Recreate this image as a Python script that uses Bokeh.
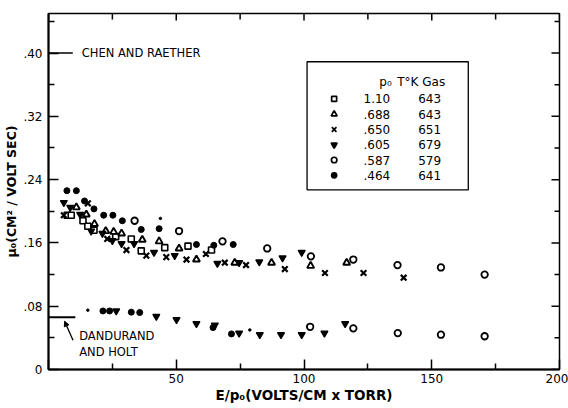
from bokeh.plotting import figure
from bokeh.models import (LinearAxis, FixedTicker, CustomJSTickFormatter, Label,
                          Arrow, NormalHead, Range1d)
from bokeh.embed import file_html
from bokeh.resources import INLINE

# ---------------- data ----------------
# p0 = 1.10, 643 K  (open squares)
sq_x = [7.3, 8.9, 13.5, 15.4, 17.8, 26.3, 32.4, 36.3, 45.5, 54.6, 63.8]
sq_y = [0.195, 0.195, 0.188, 0.181, 0.176, 0.168, 0.165, 0.150, 0.154, 0.156, 0.151]
# p0 = .688, 643 K  (open triangles)
tu_x = [10.9, 14.8, 18.0, 22.4, 25.5, 28.6, 36.7, 43.3, 51.1, 57.9, 72.9, 87.3, 102.6, 116.7]
tu_y = [0.205, 0.196, 0.184, 0.175, 0.174, 0.172, 0.164, 0.162, 0.153, 0.139, 0.135, 0.135, 0.131, 0.135]
# p0 = .650, 651 K  (crosses)
xx_x = [6.0, 15.4, 23.0, 30.5, 38.3, 46.1, 54.0, 61.6, 69.0, 77.3, 92.5, 108.2, 123.3, 139.0]
xx_y = [0.195, 0.210, 0.165, 0.151, 0.144, 0.142, 0.139, 0.146, 0.135, 0.132, 0.127, 0.122, 0.122, 0.116]
# p0 = .605, 679 K  (inverted triangles)
td_x = [6.0, 8.5, 12.4, 16.7, 21.1, 25.0, 28.6, 33.5, 41.3, 49.4, 66.1, 74.6, 82.5, 91.6, 99.1,
        26.5, 42.2, 50.1, 57.9, 65.1, 74.6, 82.7, 91.0, 99.1, 108.0, 116.1]
td_y = [0.211, 0.205, 0.196, 0.175, 0.172, 0.163, 0.159, 0.159, 0.148, 0.144, 0.134, 0.135, 0.136, 0.141, 0.148,
        0.074, 0.067, 0.063, 0.058, 0.056, 0.046, 0.044, 0.044, 0.044, 0.046, 0.058]
# p0 = .587, 579 K  (open circles)
oc_x = [33.7, 51.1, 68.1, 85.6, 102.7, 119.3, 136.6, 153.6, 170.7,
        102.4, 119.3, 136.7, 153.6, 170.7]
oc_y = [0.188, 0.175, 0.162, 0.153, 0.143, 0.139, 0.132, 0.129, 0.120,
        0.054, 0.052, 0.046, 0.044, 0.042]
# p0 = .464, 641 K  (filled circles)
fc_x = [7.2, 10.9, 14.1, 17.8, 21.6, 25.2, 28.9, 36.3, 43.3, 57.9, 64.7, 72.3,
        21.3, 23.9, 32.4, 35.7, 64.4, 71.6]
fc_y = [0.226, 0.226, 0.213, 0.203, 0.195, 0.195, 0.188, 0.177, 0.178, 0.158, 0.157, 0.158,
        0.074, 0.074, 0.0725, 0.072, 0.053, 0.045]
# faint small dots
dot_x = [43.8, 15.4, 78.8]
dot_y = [0.191, 0.075, 0.050]

# reference levels
chen_y = 0.40
dand_y = 0.066

# legend table
leg_p0 = ["1.10", ".688", ".650", ".605", ".587", ".464"]
leg_T = ["643", "643", "651", "679", "579", "641"]

x_major = [0, 50, 100, 150, 200]
x_minor = [25, 75, 125, 175]
y_major = [0, 0.08, 0.16, 0.24, 0.32, 0.40]
y_minor = [0.04, 0.12, 0.20, 0.28, 0.36, 0.44]

FONT = "DejaVu Sans"
X0, X1, Y0, Y1 = 0, 200, 0, 0.45
BL, BR, BT, BB = 48, 9, 13, 39
W, H = 568, 408
FW, FH = W - BL - BR, H - BT - BB

p = figure(width=W, height=H, x_range=Range1d(X0, X1), y_range=Range1d(Y0, Y1),
           output_backend="svg", toolbar_location=None,
           x_axis_location=None, y_axis_location=None,
           min_border_left=BL, min_border_right=BR, min_border_top=BT, min_border_bottom=BB)
p.grid.visible = False
p.outline_line_color = "black"
p.outline_line_width = 1.5
p.background_fill_color = "white"
p.border_fill_color = "white"

xt = FixedTicker(ticks=x_major, minor_ticks=x_minor)
yt = FixedTicker(ticks=y_major, minor_ticks=y_minor)
xf = CustomJSTickFormatter(code="return tick == 0 ? '' : tick.toFixed(0);")
yf = CustomJSTickFormatter(code="return tick == 0 ? '0' : tick.toFixed(2).replace(/^0/, '');")

def style(ax):
    ax.major_tick_out = 0
    ax.minor_tick_out = 0
    ax.major_tick_in = 10
    ax.minor_tick_in = 6
    ax.major_tick_line_width = 1.5
    ax.minor_tick_line_width = 1.5
    ax.axis_line_width = 2
    ax.major_label_text_font = FONT
    ax.major_label_text_font_size = "12px"
    ax.major_label_text_color = "black"
    ax.axis_label_text_font = FONT
    ax.axis_label_text_font_style = "bold"
    ax.axis_label_text_color = "black"

bottom = LinearAxis(ticker=xt, formatter=xf, axis_label="E/p\u2080(VOLTS/CM x TORR)")
style(bottom)
bottom.axis_label_text_font_size = "13.5px"
bottom.major_label_standoff = 4
bottom.axis_label_standoff = 1
p.add_layout(bottom, "below")

left = LinearAxis(ticker=yt, formatter=yf, axis_label="\u03bc\u2080(CM\u00b2 / VOLT SEC)")
style(left)
left.axis_label_text_font_size = "12.5px"
left.major_label_standoff = 6
left.axis_label_standoff = 1
p.add_layout(left, "left")

# ---- inward ticks on the top and right frame edges ----
px_x = (X1 - X0) / FW      # data units per pixel, x
px_y = (Y1 - Y0) / FH      # data units per pixel, y
top_ticks = x_major + x_minor
top_len = [7 * px_y] * len(x_major) + [6 * px_y] * len(x_minor)
p.segment(x0=top_ticks, y0=[Y1] * len(top_ticks), x1=top_ticks,
          y1=[Y1 - l for l in top_len], line_color="black", line_width=1.5)
right_ticks = y_major + y_minor
right_len = [8 * px_x] * len(y_major) + [5 * px_x] * len(y_minor)
p.segment(x0=[X1] * len(right_ticks), y0=right_ticks, x1=[X1 - l for l in right_len],
          y1=right_ticks, line_color="black", line_width=1.5)

# ---------------- data marks ----------------
S = 6.5
p.scatter(sq_x, sq_y, marker="square", size=S - 0.5, fill_color="white", line_color="black", line_width=1.6)
p.scatter(tu_x, tu_y, marker="triangle", size=S + 0.5, fill_color="white", line_color="black", line_width=1.9)
p.scatter(xx_x, xx_y, marker="x", size=S + 1.5, line_color="black", line_width=2.2)
p.scatter(td_x, td_y, marker="inverted_triangle", size=S + 0.5, fill_color="black", line_color="black", line_width=1.2)
p.scatter(oc_x, oc_y, marker="circle", size=S, fill_color="white", line_color="black", line_width=1.8)
p.scatter(fc_x, fc_y, marker="circle", size=S - 0.5, fill_color="black", line_color="black")
p.scatter(dot_x, dot_y, marker="circle", size=2.5, fill_color="black", line_color="black")

# ---------------- reference annotations ----------------
p.line([0, 9.5], [chen_y, chen_y], line_color="black", line_width=1.5)
p.add_layout(Label(x=13, y=chen_y, text="CHEN AND RAETHER", text_font=FONT,
                   text_font_size="11.5px", text_baseline="middle", text_color="black"))

p.line([0, 10.5], [dand_y, dand_y], line_color="black", line_width=2)
p.add_layout(Arrow(x_start=9.6, y_start=0.037, x_end=6.3, y_end=0.061,
                   line_width=1.3, end=NormalHead(size=5, fill_color="black", line_color="black")))
p.add_layout(Label(x=12.0, y=0.042, text="DANDURAND", text_font=FONT,
                   text_font_size="11.5px", text_baseline="middle", text_color="black"))
p.add_layout(Label(x=12.0, y=0.0215, text="AND HOLT", text_font=FONT,
                   text_font_size="11.5px", text_baseline="middle", text_color="black"))

# ---------------- legend table ----------------
bx0, bx1, by0, by1 = 101.2, 164.3, 0.227, 0.389
p.line([bx0, bx1, bx1, bx0, bx0], [by0, by0, by1, by1, by0], line_color="black", line_width=1.3)
row_y = [0.342 - 0.0193 * i for i in range(len(leg_p0))]
hdr_y = 0.364
p.add_layout(Label(x=129.5, y=hdr_y, text="p\u2080", text_font=FONT, text_font_size="12px",
                   text_baseline="middle", text_color="black"))
p.add_layout(Label(x=136.5, y=hdr_y, text="T\u00b0K Gas", text_font=FONT, text_font_size="12px",
                   text_baseline="middle", text_color="black"))
mk = [("square", "white", 5), ("triangle", "white", 6), ("x", None, 6.5),
      ("inverted_triangle", "black", 6), ("circle", "white", 5.5), ("circle", "black", 5)]
for i, (m, fc, s) in enumerate(mk):
    p.scatter([111.8], [row_y[i]], marker=m, size=s, fill_color=fc, line_color="black", line_width=1.7)
    p.add_layout(Label(x=123.3, y=row_y[i], text=leg_p0[i], text_font=FONT, text_font_size="12px",
                       text_baseline="middle", text_color="black"))
    p.add_layout(Label(x=144.7, y=row_y[i], text=leg_T[i], text_font=FONT, text_font_size="12px",
                       text_baseline="middle", text_color="black"))

open("out.html", "w").write(file_html(p, INLINE))
